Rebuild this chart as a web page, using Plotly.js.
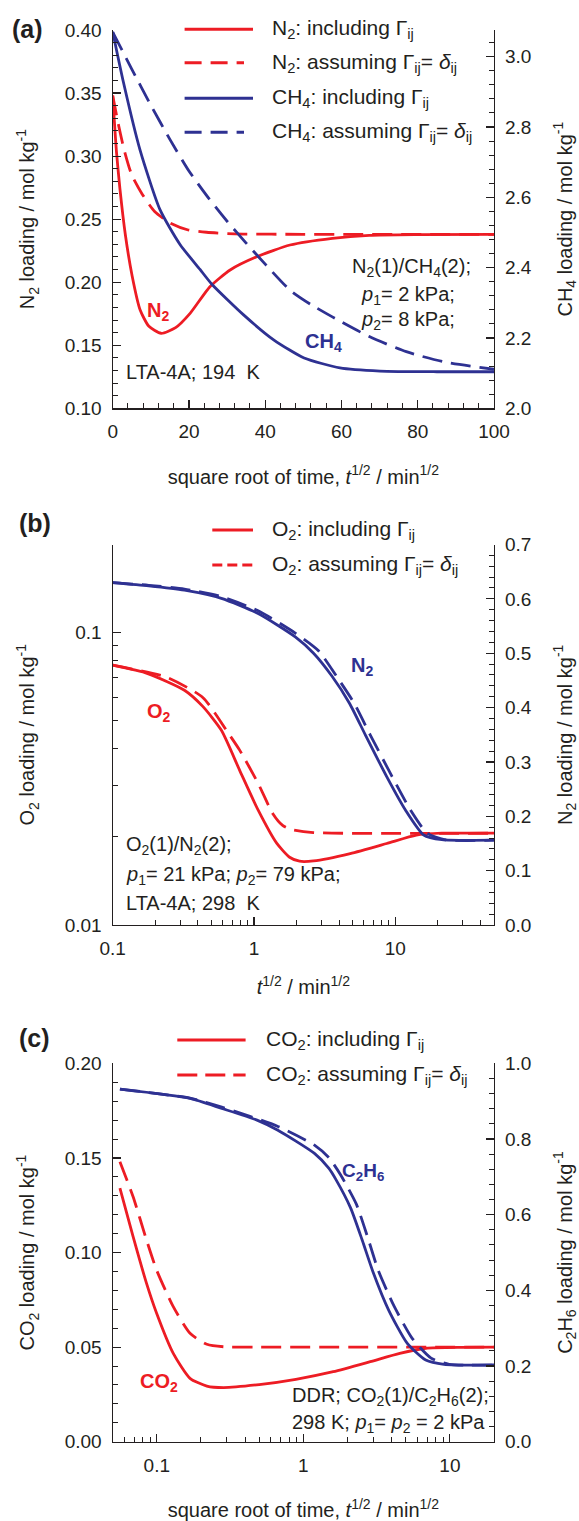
<!DOCTYPE html>
<html>
<head>
<meta charset="utf-8">
<script src="https://cdn.plot.ly/plotly-3.0.1.min.js"></script>
<style>
  html, body { margin: 0; padding: 0; background: #fff; }
  #chart { width: 579px; height: 1521px; }
</style>
</head>
<body>
<div id="chart"></div>
<script>
// ---------- (a) N2/CH4 in LTA-4A at 194 K, linear time axis ----------
const tA_n2Incl  = [0, 1.0, 1.9, 3.3, 5.1, 7.2, 9.5, 12.7, 16.5, 20.3, 25.5, 30.8, 37.8, 46.5, 57.6, 67.3, 80, 100];
const n2InclA    = [0.348, 0.303, 0.274, 0.238, 0.205, 0.178, 0.165, 0.1595, 0.164, 0.1753, 0.1964, 0.2097, 0.2202, 0.2295, 0.2348, 0.2372, 0.2378, 0.238];
const tA_n2Delta = [0, 1.5, 3, 5, 7.7, 11, 15, 19.8, 24.6, 32, 50, 100];
const n2DeltaA   = [0.348, 0.325, 0.305, 0.285, 0.270, 0.256, 0.247, 0.2414, 0.2396, 0.2383, 0.238, 0.238];
const tA_ch4Incl = [0, 2.8, 7.16, 12.4, 17.65, 22.9, 26.0, 34.4, 42.3, 50.2, 59.6, 70.1, 85, 100];
const ch4InclA   = [3.071, 2.928, 2.735, 2.565, 2.466, 2.395, 2.353, 2.265, 2.194, 2.143, 2.115, 2.106, 2.104, 2.104];
const tA_ch4Delta = [0, 5, 10, 15, 20, 25, 30, 35, 40, 46.5, 52, 57.6, 67.3, 77, 86.7, 100];
const ch4DeltaA   = [3.07, 2.965, 2.862, 2.765, 2.675, 2.6, 2.532, 2.47, 2.41, 2.336, 2.295, 2.26, 2.204, 2.161, 2.1325, 2.111];

// ---------- (b) O2/N2 in LTA-4A at 298 K, log time axis ----------
const tB_o2Incl  = [0.1, 0.177, 0.322, 0.434, 0.588, 0.792, 1.071, 1.447, 1.787, 2.102, 2.64, 4.8, 8.7, 14.1, 21.4, 50];
const o2InclB    = [0.0773, 0.0724, 0.0635, 0.0559, 0.0463, 0.0338, 0.0247, 0.01905, 0.01705, 0.01652, 0.01656, 0.01755, 0.019, 0.0203, 0.0206, 0.0206];
const tB_o2Delta = [0.1, 0.238, 0.434, 0.66, 0.79, 1.07, 1.36, 1.595, 1.84, 2.63, 50];
const o2DeltaB   = [0.0773, 0.0705, 0.060, 0.0452, 0.0397, 0.0305, 0.024, 0.0219, 0.0212, 0.0207, 0.0206];
const tB_n2Incl  = [0.1, 0.18, 0.322, 0.588, 1.07, 1.96, 2.64, 3.56, 4.74, 6.15, 8.7, 11.8, 15.9, 21.4, 50];
const n2InclB    = [0.630, 0.624, 0.616, 0.601, 0.573, 0.530, 0.500, 0.458, 0.408, 0.3495, 0.273, 0.2116, 0.1656, 0.157, 0.156];
const tB_n2Delta = [0.1, 0.18, 0.322, 0.588, 1.07, 1.96, 2.85, 3.83, 5.12, 6.66, 9.5, 12.8, 16.8, 22.3, 50];
const n2DeltaB   = [0.630, 0.625, 0.618, 0.604, 0.578, 0.537, 0.505, 0.458, 0.408, 0.3495, 0.273, 0.2116, 0.169, 0.157, 0.156];

// ---------- (c) CO2/C2H6 in DDR at 298 K, log time axis ----------
const tC_co2Incl  = [0.056, 0.0689, 0.0851, 0.0997, 0.1295, 0.1685, 0.2195, 0.285, 0.5, 0.889, 1.6, 2.86, 4.55, 6.85, 12.3, 20];
const co2InclC    = [0.134, 0.1084, 0.0837, 0.0679, 0.0467, 0.0335, 0.0294, 0.0286, 0.0302, 0.033, 0.037, 0.0423, 0.0467, 0.0494, 0.0499, 0.050];
const tC_co2Delta = [0.056, 0.0689, 0.0851, 0.0997, 0.1295, 0.1685, 0.2195, 0.285, 0.5, 20];
const co2DeltaC   = [0.148, 0.1295, 0.1066, 0.0907, 0.0714, 0.0573, 0.0515, 0.0502, 0.0500, 0.0500];
const tC_c2h6Incl  = [0.056, 0.1685, 0.2776, 0.483, 0.6655, 1.191, 1.49, 1.662, 2.10, 2.52, 2.98, 3.82, 5.12, 6.84, 9.12, 20];
const c2h6InclC    = [0.932, 0.9075, 0.881, 0.850, 0.824, 0.762, 0.723, 0.694, 0.618, 0.533, 0.450, 0.348, 0.26, 0.216, 0.2045, 0.2027];
const tC_c2h6Delta = [0.056, 0.1685, 0.2776, 0.6655, 1.191, 1.5, 1.798, 2.30, 2.76, 3.25, 4.153, 5.515, 7.443, 9.89, 20];
const c2h6DeltaC   = [0.932, 0.908, 0.8845, 0.834, 0.784, 0.75, 0.705, 0.628, 0.538, 0.452, 0.359, 0.274, 0.221, 0.2045, 0.2027];

// ---------- styling ----------
const W = 579, H = 1521;
const RED = '#ed1c24', BLUE = '#2e3192', INK = '#231f20';
const FONT = 'Liberation Sans, Arial, Helvetica, sans-serif';
const LW = 2.8, DASH = '20px,9px';
const KEY_TXT = 21, NOTE_TXT = 20;

const px = v => v / W;          // horizontal pixel -> paper
const py = v => 1 - v / H;      // vertical pixel -> paper

function line(x, y, color, dashed, xa, ya) {
  return {
    type: 'scatter', mode: 'lines', x: x, y: y, xaxis: xa, yaxis: ya,
    line: { color: color, width: LW, dash: dashed ? DASH : 'solid', shape: 'spline', smoothing: 0.6 },
    hoverinfo: 'skip', showlegend: false
  };
}

const traces = [
  line(tA_n2Delta, n2DeltaA, RED, true, 'x', 'y'),
  line(tA_n2Incl, n2InclA, RED, false, 'x', 'y'),
  line(tA_ch4Delta, ch4DeltaA, BLUE, true, 'x', 'y2'),
  line(tA_ch4Incl, ch4InclA, BLUE, false, 'x', 'y2'),

  line(tB_n2Delta, n2DeltaB, BLUE, true, 'x2', 'y4'),
  line(tB_n2Incl, n2InclB, BLUE, false, 'x2', 'y4'),
  line(tB_o2Delta, o2DeltaB, RED, true, 'x2', 'y3'),
  line(tB_o2Incl, o2InclB, RED, false, 'x2', 'y3'),

  line(tC_c2h6Delta, c2h6DeltaC, BLUE, true, 'x3', 'y6'),
  line(tC_c2h6Incl, c2h6InclC, BLUE, false, 'x3', 'y6'),
  line(tC_co2Delta, co2DeltaC, RED, true, 'x3', 'y5'),
  line(tC_co2Incl, co2InclC, RED, false, 'x3', 'y5')
];

const xDom = [px(112.7), px(494)];
const domA = [py(408.3), py(30)];
const domB = [py(925), py(544.5)];
const domC = [py(1441.7), py(1063.4)];

function axis(extra) {
  return Object.assign({
    showline: true, linecolor: INK, linewidth: 1.2, mirror: false,
    ticks: 'inside', ticklen: 8, tickwidth: 1.2, tickcolor: INK,
    showgrid: false, zeroline: false, fixedrange: true,
    tickfont: { family: FONT, size: 19, color: INK },
    ticklabelstandoff: 6
  }, extra);
}
function minorLin(d) {
  return { dtick: d, ticks: 'inside', ticklen: 5, tickwidth: 1, tickcolor: INK, showgrid: false };
}
function minorArr(vals) {
  return { tickmode: 'array', tickvals: vals, ticks: 'inside', ticklen: 5, tickwidth: 1, tickcolor: INK, showgrid: false };
}
function ttl(text, standoff) {
  return { text: text, font: { family: FONT, size: 20, color: INK }, standoff: standoff };
}

const logMinorB = [], logMinorC = [];
for (const dec of [0.1, 1, 10]) for (let k = 2; k <= 9; k++) {
  const v = +(k * dec).toPrecision(3);
  if (v <= 50) logMinorB.push(v);
  if (v <= 20) logMinorC.push(v);
}
[0.09, 0.08, 0.07, 0.06].forEach(v => logMinorC.unshift(v));
const logMinorYB = [0.02, 0.03, 0.04, 0.05, 0.06, 0.07, 0.08, 0.09, 0.2];

const tSqrt = '<i>t</i><sup>1/2</sup> / min<sup>1/2</sup>';
const LEFT_SO = 24, RIGHT_SO = 30, X_SO = 28;

const layout = {
  width: W, height: H,
  margin: { l: 0, r: 0, t: 0, b: 0 },
  paper_bgcolor: '#fff', plot_bgcolor: 'rgba(0,0,0,0)',
  font: { family: FONT, size: 19, color: INK },
  showlegend: false,

  // (a)
  xaxis: axis({ domain: xDom, anchor: 'y', range: [0, 100], tick0: 0, dtick: 20, minor: minorLin(4),
    title: ttl('square root of time, ' + tSqrt, X_SO) }),
  yaxis: axis({ domain: domA, anchor: 'x', range: [0.10, 0.40], tick0: 0, dtick: 0.05, tickformat: '.2f', minor: minorLin(0.01),
    title: ttl('N<sub>2</sub> loading / mol kg<sup>-1</sup>', LEFT_SO) }),
  yaxis2: axis({ domain: domA, anchor: 'x', overlaying: 'y', side: 'right', range: [2.0, 3.076], tick0: 2, dtick: 0.2, tickformat: '.1f', minor: minorLin(0.04),
    title: ttl('CH<sub>4</sub> loading / mol kg<sup>-1</sup>', RIGHT_SO) }),

  // (b)
  xaxis2: axis({ domain: xDom, anchor: 'y3', type: 'log', range: [-1, Math.log10(50)],
    tickmode: 'array', tickvals: [0.1, 1, 10], ticktext: ['0.1', '1', '10'], minor: minorArr(logMinorB),
    title: ttl(tSqrt, 22) }),
  yaxis3: axis({ domain: domB, anchor: 'x2', type: 'log', range: [-2, Math.log10(0.2)],
    tickmode: 'array', tickvals: [0.01, 0.1], ticktext: ['0.01', '0.1'], minor: minorArr(logMinorYB),
    title: ttl('O<sub>2</sub> loading / mol kg<sup>-1</sup>', LEFT_SO) }),
  yaxis4: axis({ domain: domB, anchor: 'x2', overlaying: 'y3', side: 'right', range: [0, 0.7], tick0: 0, dtick: 0.1, tickformat: '.1f', minor: minorLin(0.02),
    title: ttl('N<sub>2</sub> loading / mol kg<sup>-1</sup>', RIGHT_SO) }),

  // (c)
  xaxis3: axis({ domain: xDom, anchor: 'y5', type: 'log', range: [Math.log10(0.05), Math.log10(20)],
    tickmode: 'array', tickvals: [0.1, 1, 10], ticktext: ['0.1', '1', '10'], minor: minorArr(logMinorC),
    title: ttl('square root of time, ' + tSqrt, X_SO) }),
  yaxis5: axis({ domain: domC, anchor: 'x3', range: [0, 0.20], tick0: 0, dtick: 0.05, tickformat: '.2f', minor: minorLin(0.01),
    title: ttl('CO<sub>2</sub> loading / mol kg<sup>-1</sup>', LEFT_SO) }),
  yaxis6: axis({ domain: domC, anchor: 'x3', overlaying: 'y5', side: 'right', range: [0, 1.0], tick0: 0, dtick: 0.2, tickformat: '.1f', minor: minorLin(0.04),
    title: ttl('C<sub>2</sub>H<sub>6</sub> loading / mol kg<sup>-1</sup>', RIGHT_SO) }),

  shapes: [],
  annotations: []
};

// key entries: sample stroke + label
function key(x0, x1, y, color, dashed, dashPat, textX, text) {
  layout.shapes.push({
    type: 'line', xref: 'paper', yref: 'paper', x0: px(x0), x1: px(x1), y0: py(y), y1: py(y),
    line: { color: color, width: 3, dash: dashed ? dashPat : 'solid' }
  });
  note(text, textX, y, 'left', INK, KEY_TXT);
}
function note(text, x, y, anchor, color, size) {
  layout.annotations.push({
    xref: 'paper', yref: 'paper', x: px(x), y: py(y), text: text, showarrow: false,
    xanchor: anchor, yanchor: 'middle', align: anchor,
    font: { family: FONT, size: size, color: color }
  });
}

const incl = ': including Γ<sub>ij</sub>';
const assum = ': assuming Γ<sub>ij</sub>= <i>δ</i><sub>ij</sub>';

// (a)
note('<b>(a)</b>', 10, 29, 'left', INK, 25);
key(184.6, 253, 29.3, RED, false, null, 269.6, 'N<sub>2</sub>' + incl);
key(184.6, 244, 62.7, RED, true, '17px,9px', 269.6, 'N<sub>2</sub>' + assum);
key(184.6, 253, 98.3, BLUE, false, null, 269.6, 'CH<sub>4</sub>' + incl);
key(184.6, 244, 132.3, BLUE, true, '17px,9px', 269.6, 'CH<sub>4</sub>' + assum);
note('<b>N<sub>2</sub></b>', 158, 312, 'center', RED, NOTE_TXT);
note('<b>CH<sub>4</sub></b>', 323, 343, 'center', BLUE, NOTE_TXT);
note('N<sub>2</sub>(1)/CH<sub>4</sub>(2);', 411, 267, 'center', INK, NOTE_TXT);
note('<i>p</i><sub>1</sub>= 2 kPa;', 408, 296, 'center', INK, NOTE_TXT);
note('<i>p</i><sub>2</sub>= 8 kPa;', 408, 321, 'center', INK, NOTE_TXT);
note('LTA-4A; 194\u00a0 K', 124, 372, 'left', INK, NOTE_TXT);

// (b)
note('<b>(b)</b>', 17, 523, 'left', INK, 25);
key(212.3, 253, 530, RED, false, null, 269.6, 'O<sub>2</sub>' + incl);
key(212.3, 253, 565, RED, true, '10px,5px', 269.6, 'O<sub>2</sub>' + assum);
note('<b>N<sub>2</sub></b>', 362, 667, 'center', BLUE, NOTE_TXT);
note('<b>O<sub>2</sub></b>', 159, 712, 'center', RED, NOTE_TXT);
note('O<sub>2</sub>(1)/N<sub>2</sub>(2);', 124, 846, 'left', INK, NOTE_TXT);
note('<i>p</i><sub>1</sub>= 21 kPa; <i>p</i><sub>2</sub>= 79 kPa;', 124, 875, 'left', INK, NOTE_TXT);
note('LTA-4A; 298\u00a0 K', 124, 903.3, 'left', INK, NOTE_TXT);

// (c)
note('<b>(c)</b>', 17, 1038, 'left', INK, 25);
key(177.3, 245.6, 1040, RED, false, null, 264, 'CO<sub>2</sub>' + incl);
key(177.3, 245.6, 1075, RED, true, '20px,8px', 264, 'CO<sub>2</sub>' + assum);
note('<b>C<sub>2</sub>H<sub>6</sub></b>', 340, 1172, 'left', BLUE, 19);
note('<b>CO<sub>2</sub></b>', 159, 1382, 'center', RED, NOTE_TXT);
note('DDR; CO<sub>2</sub>(1)/C<sub>2</sub>H<sub>6</sub>(2);', 290, 1396.7, 'left', INK, NOTE_TXT);
note('298 K; <i>p</i><sub>1</sub>= <i>p</i><sub>2</sub> = 2 kPa', 290, 1423.3, 'left', INK, NOTE_TXT);

Plotly.newPlot('chart', traces, layout, { staticPlot: true, displayModeBar: false });
</script>
</body>
</html>
